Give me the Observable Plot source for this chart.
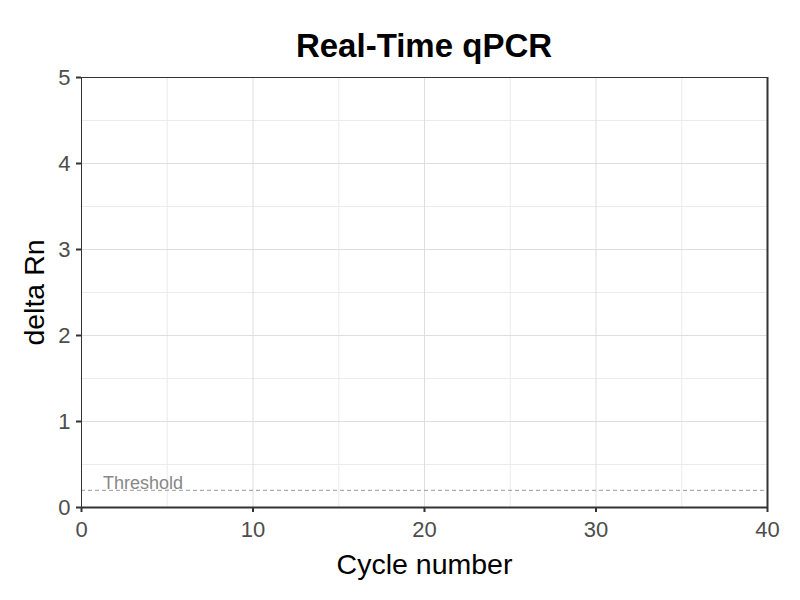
<!DOCTYPE html>
<html><head><meta charset="utf-8">
<script src="https://cdn.jsdelivr.net/npm/d3@7"></script>
<script src="https://cdn.jsdelivr.net/npm/@observablehq/plot@0.6"></script>
<style>
body{margin:0;background:#fff;font-family:"Liberation Sans",Arial,sans-serif;}
#title{height:60px;overflow:visible;width:800px;box-sizing:border-box;padding-left:48px;text-align:center;font-size:33px;font-weight:bold;line-height:33px;padding-top:29px;color:#000;white-space:nowrap;}
#chart{height:540px;}
</style></head>
<body>
<div id="title">Real-Time qPCR</div>
<div id="chart"></div>
<script>
const xTicks = [0, 10, 20, 30, 40];
const yTicks = [0, 1, 2, 3, 4, 5];
const xMajorGrid = [10, 20, 30];
const yMajorGrid = [1, 2, 3, 4];
const xMinorGrid = [5, 15, 25, 35];
const yMinorGrid = [0.5, 1.5, 2.5, 3.5, 4.5];
const threshold = [0.2];
const thresholdLabel = ["Threshold"];

const chart = Plot.plot({
  width: 800, height: 540,
  marginTop: 17, marginBottom: 93, marginLeft: 81, marginRight: 33,
  style: {fontFamily: "Liberation Sans, Arial, sans-serif", background: "#fff"},
  x: {domain: [0, 40], axis: null},
  y: {domain: [0, 5], axis: null},
  marks: [
    Plot.gridX(xMinorGrid, {stroke: "#ebebeb", strokeOpacity: 1, strokeWidth: 1}),
    Plot.gridY(yMinorGrid, {stroke: "#ebebeb", strokeOpacity: 1, strokeWidth: 1}),
    Plot.gridX(xMajorGrid, {stroke: "#dedede", strokeOpacity: 1, strokeWidth: 1}),
    Plot.gridY(yMajorGrid, {stroke: "#dedede", strokeOpacity: 1, strokeWidth: 1}),
    Plot.ruleY(threshold, {y: d => d, x1: 0, x2: 40, stroke: "#999", strokeDasharray: "4,3", strokeWidth: 1}),
    Plot.text(thresholdLabel, {x: 1.25, y: threshold[0], text: d => d, textAnchor: "start", lineAnchor: "bottom", dy: -1, fill: "#888", fontSize: 18}),
    Plot.frame({stroke: "#333", strokeWidth: 1}),
    Plot.ruleY([0], {stroke: "#333", strokeWidth: 2}),
    Plot.ruleX([40], {stroke: "#333", strokeWidth: 2}),
    Plot.axisX(xTicks, {tickSize: 5, tickPadding: 9, fontSize: 22, fill: "#4d4d4d", stroke: "#333", strokeWidth: 2, label: null, tickFormat: "d"}),
    Plot.axisY(yTicks, {tickSize: 5, tickPadding: 6, fontSize: 22, fill: "#4d4d4d", stroke: "#333", strokeWidth: 2, label: null, tickFormat: "d"}),
    Plot.text(["Cycle number"], {frameAnchor: "bottom", text: d => d, textAnchor: "middle", lineAnchor: "middle", dy: 57, fontSize: 28.5, fill: "#000"}),
    Plot.text(["delta Rn"], {frameAnchor: "left", text: d => d, textAnchor: "middle", lineAnchor: "middle", dx: -47, rotate: -90, fontSize: 28.5, fill: "#000"})
  ]
});
document.getElementById("chart").appendChild(chart);
</script>
</body></html>
